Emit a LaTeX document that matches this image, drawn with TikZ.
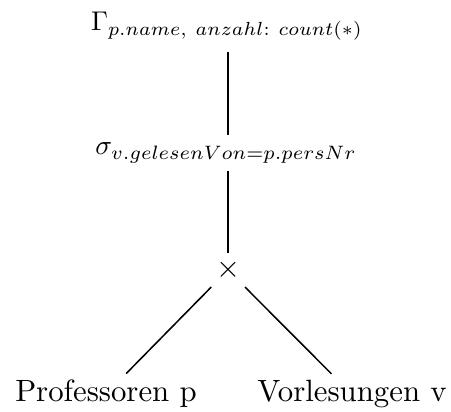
\documentclass[tikz,border=0pt]{standalone}
\usepackage{graphicx}
\begin{document}
\begin{tikzpicture}[x=0.3247pt,y=-0.3247pt,
  op/.style={inner sep=2.4pt},
  rel/.style={inner sep=2pt},
  edge/.style={line width=0.5pt}]
\useasboundingbox (0,0) rectangle (451,412);
% operator tree; operator labels are set slightly reduced
\node[op,inner sep=3.33pt,anchor=base] (g) at (227,31) {\scalebox{0.88}{$\Gamma_{p.name,\ anzahl\colon\ count(*)}$}};
\node[op,anchor=base] (s) at (226,155) {\scalebox{0.9}{$\sigma_{v.gelesenVon=p.persNr}$}};
\node[rel] (x) at (228,270) {$\times$};
\node[rel,anchor=base] (p) at (106,402) {Professoren p};
\node[rel,anchor=base] (v) at (352,402) {Vorlesungen v};
\draw[edge] (g.south -| x) -- (s.north -| x);
\draw[edge] (s.south -| x) -- (x);
\draw[edge] (x) -- (p);
\draw[edge] (x) -- (v);
\end{tikzpicture}
\end{document}
